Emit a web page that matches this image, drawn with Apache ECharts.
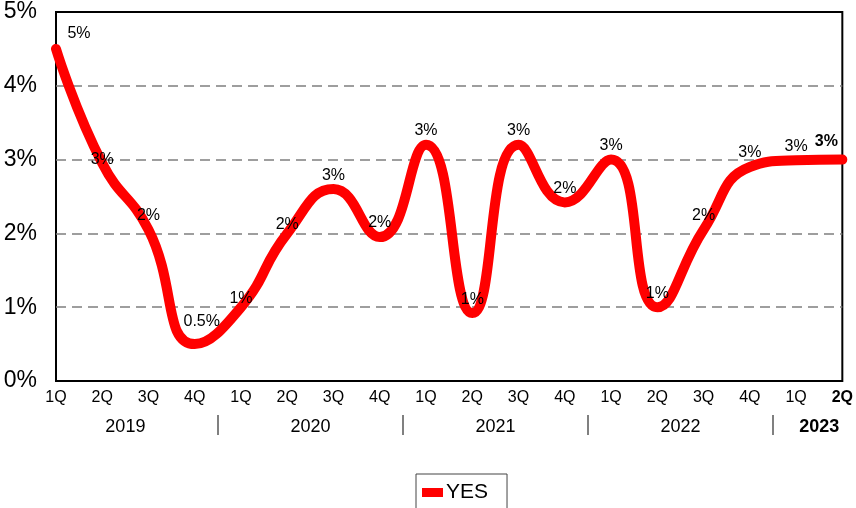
<!DOCTYPE html>
<html>
<head>
<meta charset="utf-8">
<script src="https://cdn.jsdelivr.net/npm/echarts@6/dist/echarts.min.js"></script>
<style>
  html, body { margin: 0; padding: 0; background: #fff; }
  #chart { width: 856px; height: 508px; }
</style>
</head>
<body>
<div id="chart"></div>
<script>
// Quarter labels along the bottom axis (2019 Q1 through 2023 Q2)
const quarters = ['1Q', '2Q', '3Q', '4Q', '1Q', '2Q', '3Q', '4Q', '1Q', '2Q', '3Q', '4Q',
                  '1Q', '2Q', '3Q', '4Q', '1Q', '2Q'];
// Year groups and the quarter index each one is centred on
const years = ['2019', '2020', '2021', '2022', '2023'];
const yearCentres = [1.5, 5.5, 9.5, 13.5, 16.5];
const yearDividers = [3.5, 7.5, 11.5, 15.5];
// YES series, percent
const yesValues = [4.5, 2.95, 2.05, 0.5, 1.0, 2.0, 2.6, 1.95, 3.2, 0.92, 3.2, 2.42,
                   3.0, 1.0, 2.05, 2.9, 2.99, 3.0];
// Value axis ticks, percent
const yTicks = [0, 1, 2, 3, 4, 5];

const FONT = '"Liberation Sans", Arial, sans-serif';
const lastIdx = yesValues.length - 1;

// Nudges for a few data labels that sit beside the line rather than above it
const labelNudge = { 0: [23, -1], 1: [0, 10], 3: [7, -9], 4: [0, 5], 5: [0, 5], 17: [-16, -4] };

function pctLabel(v) {
  return (v < 0.75 ? v.toFixed(1) : String(Math.round(v))) + '%';
}

const seriesData = yesValues.map((v, i) => {
  const item = { value: v, label: {} };
  if (labelNudge[i]) item.label.offset = labelNudge[i];
  if (i === lastIdx) item.label.fontWeight = 'bold';
  return item;
});

const chart = echarts.init(document.getElementById('chart'), null, { renderer: 'canvas' });

chart.setOption({
  animation: false,
  backgroundColor: '#ffffff',
  textStyle: { fontFamily: FONT },
  grid: {
    left: 56, right: 12.5, top: 12, bottom: 127,
    show: true, borderColor: '#000', borderWidth: 2, backgroundColor: 'transparent'
  },
  legend: {
    data: ['YES'],
    left: 416, top: 474,
    padding: [8, 19, 12, 6],
    borderColor: '#444', borderWidth: 1,
    itemWidth: 21, itemHeight: 9, icon: 'rect',
    textStyle: { fontSize: 21, color: '#000', fontFamily: FONT, padding: [0, 0, 0, -2] }
  },
  xAxis: [
    {
      type: 'category',
      data: quarters,
      boundaryGap: false,
      axisLine: { show: false },
      axisTick: { show: false },
      splitLine: { show: false },
      axisLabel: {
        interval: 0, margin: 9, fontSize: 16, color: '#000', fontFamily: FONT,
        formatter: (val, idx) => idx === lastIdx ? '{b|' + val + '}' : val,
        rich: { b: { fontWeight: 'bold', fontSize: 16, color: '#000', fontFamily: FONT } }
      }
    },
    {
      // Year row beneath the quarters, with dividers between years
      type: 'value',
      position: 'bottom',
      offset: 34,
      min: 0, max: quarters.length - 1,
      axisLine: { show: false },
      splitLine: { show: false },
      axisTick: {
        show: true, customValues: yearDividers, length: 20, inside: false,
        lineStyle: { color: '#808080', width: 2 }
      },
      axisLabel: {
        customValues: yearCentres, margin: 3, fontSize: 18, color: '#000', fontFamily: FONT,
        formatter: (v) => {
          const k = yearCentres.indexOf(v);
          if (k < 0) return '';
          return k === years.length - 1 ? '{b|' + years[k] + '}' : years[k];
        },
        rich: { b: { fontWeight: 'bold', fontSize: 18, color: '#000', fontFamily: FONT } }
      }
    }
  ],
  yAxis: {
    type: 'value',
    min: yTicks[0], max: yTicks[yTicks.length - 1], interval: 1,
    axisLine: { show: false },
    axisTick: { show: false },
    axisLabel: { margin: 19, fontSize: 23, color: '#000', fontFamily: FONT, formatter: (v) => v + '%' },
    splitLine: {
      show: true, showMinLine: false, showMaxLine: false,
      lineStyle: { color: '#7f7f7f', width: 1.5, type: [10, 6] }
    }
  },
  series: [{
    name: 'YES',
    type: 'line',
    xAxisIndex: 0,
    data: seriesData,
    smooth: 0.5,
    symbol: 'circle',
    symbolSize: 2,
    showSymbol: true,
    color: '#ff0000',
    itemStyle: { color: '#ff0000' },
    lineStyle: { color: '#ff0000', width: 10, cap: 'round', join: 'round' },
    label: {
      show: true, position: 'top', distance: 5,
      fontSize: 16, color: '#000', fontFamily: FONT,
      formatter: (p) => pctLabel(p.value)
    },
    emphasis: { disabled: true },
    z: 3
  }]
});
</script>
</body>
</html>
